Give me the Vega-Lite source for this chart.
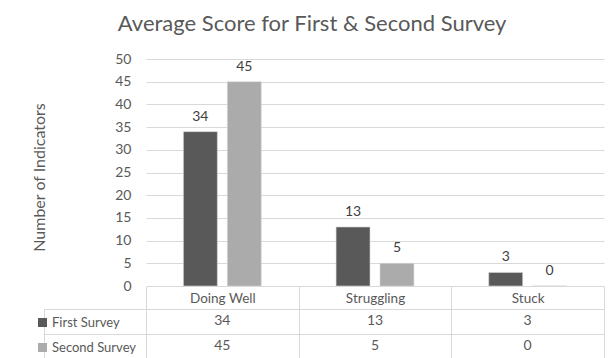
{
  "$schema": "https://vega.github.io/schema/vega-lite/v6.json",
  "padding": {"left": 31, "top": 13, "right": 5, "bottom": 0},
  "background": "white",
  "title": {
    "text": "Average Score for First & Second Survey",
    "anchor": "middle",
    "font": "Lato",
    "fontSize": 22,
    "fontWeight": "normal",
    "color": "#595959",
    "offset": 16,
    "dx": -6
  },
  "config": {
    "font": "Lato",
    "view": {"stroke": null},
    "axis": {"labelFont": "Lato", "titleFont": "Lato"},
    "legend": {"labelFont": "Lato"}
  },
  "data": {
    "values": [
      {"category": "Doing Well", "survey": "First Survey", "value": 34},
      {"category": "Doing Well", "survey": "Second Survey", "value": 45},
      {"category": "Struggling", "survey": "First Survey", "value": 13},
      {"category": "Struggling", "survey": "Second Survey", "value": 5},
      {"category": "Stuck", "survey": "First Survey", "value": 3},
      {"category": "Stuck", "survey": "Second Survey", "value": 0}
    ]
  },
  "bounds": "flush",
  "spacing": 23,
  "vconcat": [
    {
      "width": 458,
      "height": 227,
      "encoding": {
        "x": {
          "field": "category",
          "type": "nominal",
          "sort": ["Doing Well", "Struggling", "Stuck"],
          "scale": {"paddingInner": 0, "paddingOuter": 0},
          "axis": null
        },
        "xOffset": {
          "field": "survey",
          "type": "nominal",
          "sort": ["First Survey", "Second Survey"],
          "scale": {"paddingInner": 0.227, "paddingOuter": 0.852}
        },
        "y": {
          "field": "value",
          "type": "quantitative",
          "scale": {"domain": [0, 50], "nice": false},
          "axis": {
            "values": [0, 5, 10, 15, 20, 25, 30, 35, 40, 45, 50],
            "title": "Number of Indicators",
            "titleFontSize": 16,
            "titleFontWeight": "normal",
            "titleColor": "#595959",
            "titlePadding": 67,
            "titleY": 118,
            "labelFontSize": 14,
            "labelColor": "#595959",
            "labelPadding": 15,
            "ticks": false,
            "domain": false,
            "gridColor": "#d9d9d9",
            "gridWidth": 1
          }
        }
      },
      "layer": [
        {
          "mark": {"type": "bar", "stroke": "#d9d9d9", "strokeWidth": 0.6},
          "encoding": {
            "color": {
              "field": "survey",
              "type": "nominal",
              "scale": {"domain": ["First Survey", "Second Survey"], "range": ["#595959", "#ababab"]},
              "legend": {
                "orient": "none",
                "legendX": -110,
                "legendY": 257,
                "title": null,
                "symbolType": "square",
                "symbolSize": 81,
                "symbolStrokeWidth": 0,
                "labelFontSize": 13,
                "labelColor": "#595959",
                "labelOffset": 3,
                "rowPadding": 11,
                "padding": 0
              }
            }
          }
        },
        {
          "mark": {"type": "text", "baseline": "bottom", "dy": -8, "fontSize": 14, "color": "#404040"},
          "encoding": {"text": {"field": "value", "type": "quantitative"}}
        }
      ]
    },
    {
      "width": 458,
      "height": 49,
      "mark": {"type": "text", "fontSize": 14, "color": "#595959", "baseline": "middle"},
      "encoding": {
        "x": {
          "field": "category",
          "type": "nominal",
          "sort": ["Doing Well", "Struggling", "Stuck"],
          "scale": {"paddingInner": 0, "paddingOuter": 0},
          "axis": {
            "orient": "top",
            "title": null,
            "labelAngle": 0,
            "labelFontSize": 13.5,
            "labelColor": "#595959",
            "labelBaseline": "middle",
            "labelPadding": -12,
            "tickBand": "extent",
            "tickSize": 23,
            "tickColor": "#d9d9d9",
            "domainColor": "#d9d9d9",
            "grid": true,
            "gridColor": "#d9d9d9",
            "minExtent": 23,
            "maxExtent": 23
          }
        },
        "y": {
          "field": "survey",
          "type": "nominal",
          "sort": ["First Survey", "Second Survey"],
          "scale": {"paddingInner": 0, "paddingOuter": 0},
          "axis": {
            "title": null,
            "labels": false,
            "offset": 102,
            "tickBand": "extent",
            "tickSize": -102,
            "tickColor": "#d9d9d9",
            "domainColor": "#d9d9d9",
            "grid": true,
            "gridColor": "#d9d9d9"
          }
        },
        "text": {"field": "value", "type": "quantitative"}
      }
    }
  ]
}
